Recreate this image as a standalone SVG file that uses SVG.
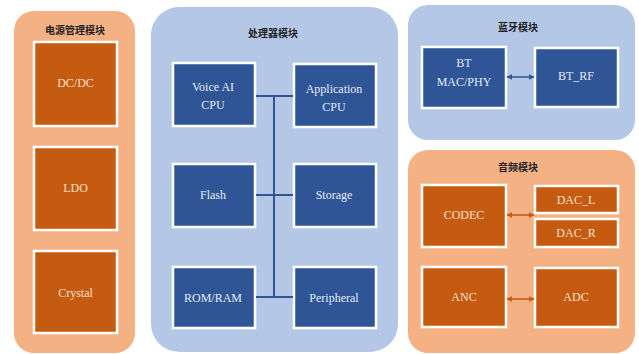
<svg xmlns="http://www.w3.org/2000/svg" width="639" height="354" viewBox="0 0 639 354">
<style>
.po{fill:#f4b183}
.pb{fill:#b4c7e7}
.bo{fill:#c55a11;stroke:#fff;stroke-width:2.5}
.bb{fill:#2f5597;stroke:#fff;stroke-width:2.5}
.t{font-family:"Noto Sans CJK SC",sans-serif;font-size:10px;font-weight:bold;fill:#222;text-anchor:middle}
.lo{font-family:'Liberation Serif','DejaVu Serif',serif;font-size:12px;fill:#f8e0cc;text-anchor:middle}
.lb{font-family:'Liberation Serif','DejaVu Serif',serif;font-size:12px;fill:#e4ebf6;text-anchor:middle}
.bus{stroke:#2f5597;stroke-width:2;fill:none}
.ao{stroke:#c55a11;stroke-width:1.5;fill:none;marker-start:url(#mo);marker-end:url(#mo)}
.ab{stroke:#2f5597;stroke-width:1.5;fill:none;marker-start:url(#mb);marker-end:url(#mb)}
</style>
<defs>
<marker id="mo" viewBox="0 0 10 10" refX="9" refY="5" markerWidth="4" markerHeight="4" orient="auto-start-reverse"><path d="M0,0L10,5L0,10z" fill="#c55a11"/></marker>
<marker id="mb" viewBox="0 0 10 10" refX="9" refY="5" markerWidth="4" markerHeight="4" orient="auto-start-reverse"><path d="M0,0L10,5L0,10z" fill="#2f5597"/></marker>
</defs>
<rect width="639" height="354" fill="#fff"/>
<g id="power">
<rect class="po" x="14" y="11" width="121" height="342" rx="20"/>
<text class="t" x="75" y="34">电源管理模块</text>
</g>
<g id="dcdc"><rect class="bo" x="34" y="42" width="83" height="84"/><text class="lo" x="75.5" y="87">DC/DC</text></g>
<g id="ldo"><rect class="bo" x="34" y="147" width="83" height="83"/><text class="lo" x="75.5" y="192">LDO</text></g>
<g id="crystal"><rect class="bo" x="34" y="251" width="83" height="82"/><text class="lo" x="75.5" y="297">Crystal</text></g>

<g id="proc">
<rect class="pb" x="151" y="7" width="247" height="345" rx="28"/>
<text class="t" x="273" y="37">处理器模块</text>
</g>
<g id="voice"><rect class="bb" x="173" y="63" width="82" height="63"/><text class="lb" x="213" y="91">Voice AI</text><text class="lb" x="213" y="109">CPU</text></g>
<g id="app"><rect class="bb" x="294" y="64" width="82" height="63"/><text class="lb" x="334" y="93">Application</text><text class="lb" x="334" y="111">CPU</text></g>
<g id="flash"><rect class="bb" x="173" y="164" width="82" height="63"/><text class="lb" x="213" y="199">Flash</text></g>
<g id="storage"><rect class="bb" x="294" y="164" width="82" height="63"/><text class="lb" x="334" y="199">Storage</text></g>
<g id="romram"><rect class="bb" x="173" y="267" width="82" height="61"/><text class="lb" x="213" y="302">ROM/RAM</text></g>
<g id="periph"><rect class="bb" x="294" y="267" width="82" height="61"/><text class="lb" x="334" y="302">Peripheral</text></g>

<g id="bt">
<rect class="pb" x="408" y="5" width="227" height="135" rx="20"/>
<text class="t" x="518" y="31">蓝牙模块</text>
</g>
<g id="btmac"><rect class="bb" x="422" y="47" width="84" height="61"/><text class="lb" x="464" y="67">BT</text><text class="lb" x="464" y="86">MAC/PHY</text></g>
<g id="btrf"><rect class="bb" x="535" y="48" width="83" height="59"/><text class="lb" x="576" y="80">BT_RF</text></g>

<g id="audio">
<rect class="po" x="408" y="150" width="227" height="203" rx="20"/>
<text class="t" x="518" y="171">音频模块</text>
</g>
<g id="codec"><rect class="bo" x="422" y="185" width="84" height="62"/><text class="lo" x="464" y="219">CODEC</text></g>
<g id="dacl"><rect class="bo" x="535" y="186" width="83" height="27"/><text class="lo" x="576" y="204">DAC_L</text></g>
<g id="dacr"><rect class="bo" x="535" y="219" width="83" height="28"/><text class="lo" x="576" y="237">DAC_R</text></g>
<g id="anc"><rect class="bo" x="422" y="267" width="84" height="60"/><text class="lo" x="464" y="301">ANC</text></g>
<g id="adc"><rect class="bo" x="535" y="268" width="83" height="59"/><text class="lo" x="576" y="301">ADC</text></g>

<g id="connectors">
<path class="bus" d="M274,96V297M256,96H293M256,195H293M256,297H293"/>
<path class="ab" d="M507,77H534"/>
<path class="ao" d="M507,215H534"/>
<path class="ao" d="M507,299H534"/>
</g>
</svg>
